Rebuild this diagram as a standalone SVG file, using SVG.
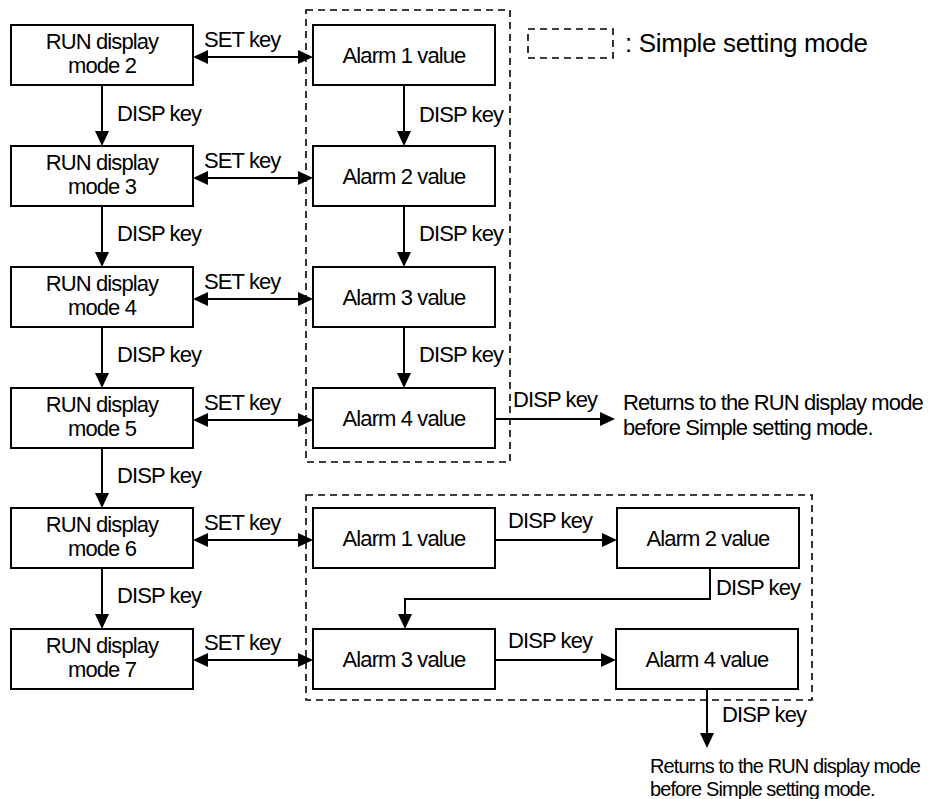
<svg xmlns="http://www.w3.org/2000/svg" width="929" height="799" viewBox="0 0 929 799">
<style>
.box{fill:#fff;stroke:#000;stroke-width:2}
.dash{fill:none;stroke:#000;stroke-width:1.6;stroke-dasharray:7 5}
.t{font-family:"Liberation Sans",Arial,sans-serif;font-size:22px;letter-spacing:-0.9px;fill:#000}
.c{text-anchor:middle}
.ln{fill:none;stroke:#000;stroke-width:2}
</style>
<defs>
<marker id="ah" markerUnits="userSpaceOnUse" markerWidth="16" markerHeight="16" refX="10" refY="7" orient="auto-start-reverse" viewBox="0 0 16 14">
<path d="M0,0 L15,7 L0,14 z" fill="#000"/>
</marker>
</defs>
<rect fill="#fff" x="0" y="0" width="929" height="799"/>

<!-- groups (dashed) -->
<g id="simple-mode-upper"><rect class="dash" x="306" y="10" width="204" height="452"/></g>
<g id="simple-mode-lower"><rect class="dash" x="306" y="495" width="506" height="205"/></g>
<g id="legend">
<rect class="dash" x="528" y="29" width="85" height="29"/>
<text class="t" x="625" y="52" style="font-size:26px;letter-spacing:-0.35px">: Simple setting mode</text>
</g>

<!-- RUN display nodes -->
<g id="run2"><rect class="box" x="11" y="25" width="182" height="60"/><text class="t c" x="102" y="49">RUN display</text><text class="t c" x="102" y="73">mode 2</text></g>
<g id="run3"><rect class="box" x="11" y="146" width="182" height="60"/><text class="t c" x="102" y="170">RUN display</text><text class="t c" x="102" y="194">mode 3</text></g>
<g id="run4"><rect class="box" x="11" y="267" width="182" height="60"/><text class="t c" x="102" y="291">RUN display</text><text class="t c" x="102" y="315">mode 4</text></g>
<g id="run5"><rect class="box" x="11" y="388" width="182" height="60"/><text class="t c" x="102" y="412">RUN display</text><text class="t c" x="102" y="436">mode 5</text></g>
<g id="run6"><rect class="box" x="11" y="508" width="182" height="60"/><text class="t c" x="102" y="532">RUN display</text><text class="t c" x="102" y="556">mode 6</text></g>
<g id="run7"><rect class="box" x="11" y="629" width="182" height="60"/><text class="t c" x="102" y="653">RUN display</text><text class="t c" x="102" y="677">mode 7</text></g>

<!-- upper alarm nodes -->
<g id="a1u"><rect class="box" x="313" y="25" width="182" height="60"/><text class="t c" x="404" y="63">Alarm 1 value</text></g>
<g id="a2u"><rect class="box" x="313" y="146" width="182" height="60"/><text class="t c" x="404" y="184">Alarm 2 value</text></g>
<g id="a3u"><rect class="box" x="313" y="267" width="182" height="60"/><text class="t c" x="404" y="305">Alarm 3 value</text></g>
<g id="a4u"><rect class="box" x="313" y="388" width="182" height="60"/><text class="t c" x="404" y="426">Alarm 4 value</text></g>

<!-- lower alarm nodes -->
<g id="a1l"><rect class="box" x="313" y="508" width="182" height="60"/><text class="t c" x="404" y="546">Alarm 1 value</text></g>
<g id="a2l"><rect class="box" x="617" y="508" width="182" height="60"/><text class="t c" x="708" y="546">Alarm 2 value</text></g>
<g id="a3l"><rect class="box" x="313" y="629" width="182" height="60"/><text class="t c" x="404" y="667">Alarm 3 value</text></g>
<g id="a4l"><rect class="box" x="616" y="629" width="182" height="60"/><text class="t c" x="707" y="667">Alarm 4 value</text></g>

<!-- return notes -->
<g id="return-upper">
<text class="t" x="623" y="410">Returns to the RUN display mode</text>
<text class="t" x="623" y="435">before Simple setting mode.</text>
</g>
<g id="return-lower">
<text class="t" x="650" y="773" style="font-size:20px">Returns to the RUN display mode</text>
<text class="t" x="650" y="796" style="font-size:20px">before Simple setting mode.</text>
</g>

<!-- connectors -->
<g id="connectors">
<!-- left column DISP -->
<line class="ln" x1="102" y1="85" x2="102" y2="141" marker-end="url(#ah)"/>
<line class="ln" x1="102" y1="206" x2="102" y2="262" marker-end="url(#ah)"/>
<line class="ln" x1="102" y1="327" x2="102" y2="383" marker-end="url(#ah)"/>
<line class="ln" x1="102" y1="448" x2="102" y2="503" marker-end="url(#ah)"/>
<line class="ln" x1="102" y1="568" x2="102" y2="624" marker-end="url(#ah)"/>
<text class="t" x="117" y="121">DISP key</text>
<text class="t" x="117" y="241">DISP key</text>
<text class="t" x="117" y="362">DISP key</text>
<text class="t" x="117" y="483">DISP key</text>
<text class="t" x="117" y="603">DISP key</text>
<!-- SET keys -->
<line class="ln" x1="198" y1="57" x2="308" y2="57" marker-start="url(#ah)" marker-end="url(#ah)"/>
<line class="ln" x1="198" y1="178" x2="308" y2="178" marker-start="url(#ah)" marker-end="url(#ah)"/>
<line class="ln" x1="198" y1="299" x2="308" y2="299" marker-start="url(#ah)" marker-end="url(#ah)"/>
<line class="ln" x1="198" y1="420" x2="308" y2="420" marker-start="url(#ah)" marker-end="url(#ah)"/>
<line class="ln" x1="198" y1="540" x2="308" y2="540" marker-start="url(#ah)" marker-end="url(#ah)"/>
<line class="ln" x1="198" y1="660" x2="308" y2="660" marker-start="url(#ah)" marker-end="url(#ah)"/>
<text class="t" x="204" y="47">SET key</text>
<text class="t" x="204" y="168">SET key</text>
<text class="t" x="204" y="289">SET key</text>
<text class="t" x="204" y="410">SET key</text>
<text class="t" x="204" y="530">SET key</text>
<text class="t" x="204" y="650">SET key</text>
<!-- upper alarm column -->
<line class="ln" x1="404" y1="85" x2="404" y2="141" marker-end="url(#ah)"/>
<line class="ln" x1="404" y1="206" x2="404" y2="262" marker-end="url(#ah)"/>
<line class="ln" x1="404" y1="327" x2="404" y2="383" marker-end="url(#ah)"/>
<text class="t" x="419" y="122">DISP key</text>
<text class="t" x="419" y="241">DISP key</text>
<text class="t" x="419" y="362">DISP key</text>
<line class="ln" x1="495" y1="419" x2="610" y2="419" marker-end="url(#ah)"/>
<text class="t" x="513" y="407">DISP key</text>
<!-- lower group -->
<line class="ln" x1="495" y1="540" x2="612" y2="540" marker-end="url(#ah)"/>
<text class="t" x="508" y="528">DISP key</text>
<polyline class="ln" points="710,568 710,599 405,599 405,624" marker-end="url(#ah)"/>
<text class="t" x="716" y="595">DISP key</text>
<line class="ln" x1="495" y1="660" x2="611" y2="660" marker-end="url(#ah)"/>
<text class="t" x="508" y="648">DISP key</text>
<line class="ln" x1="707" y1="689" x2="707" y2="743" marker-end="url(#ah)"/>
<text class="t" x="722" y="722">DISP key</text>
</g>
</svg>
